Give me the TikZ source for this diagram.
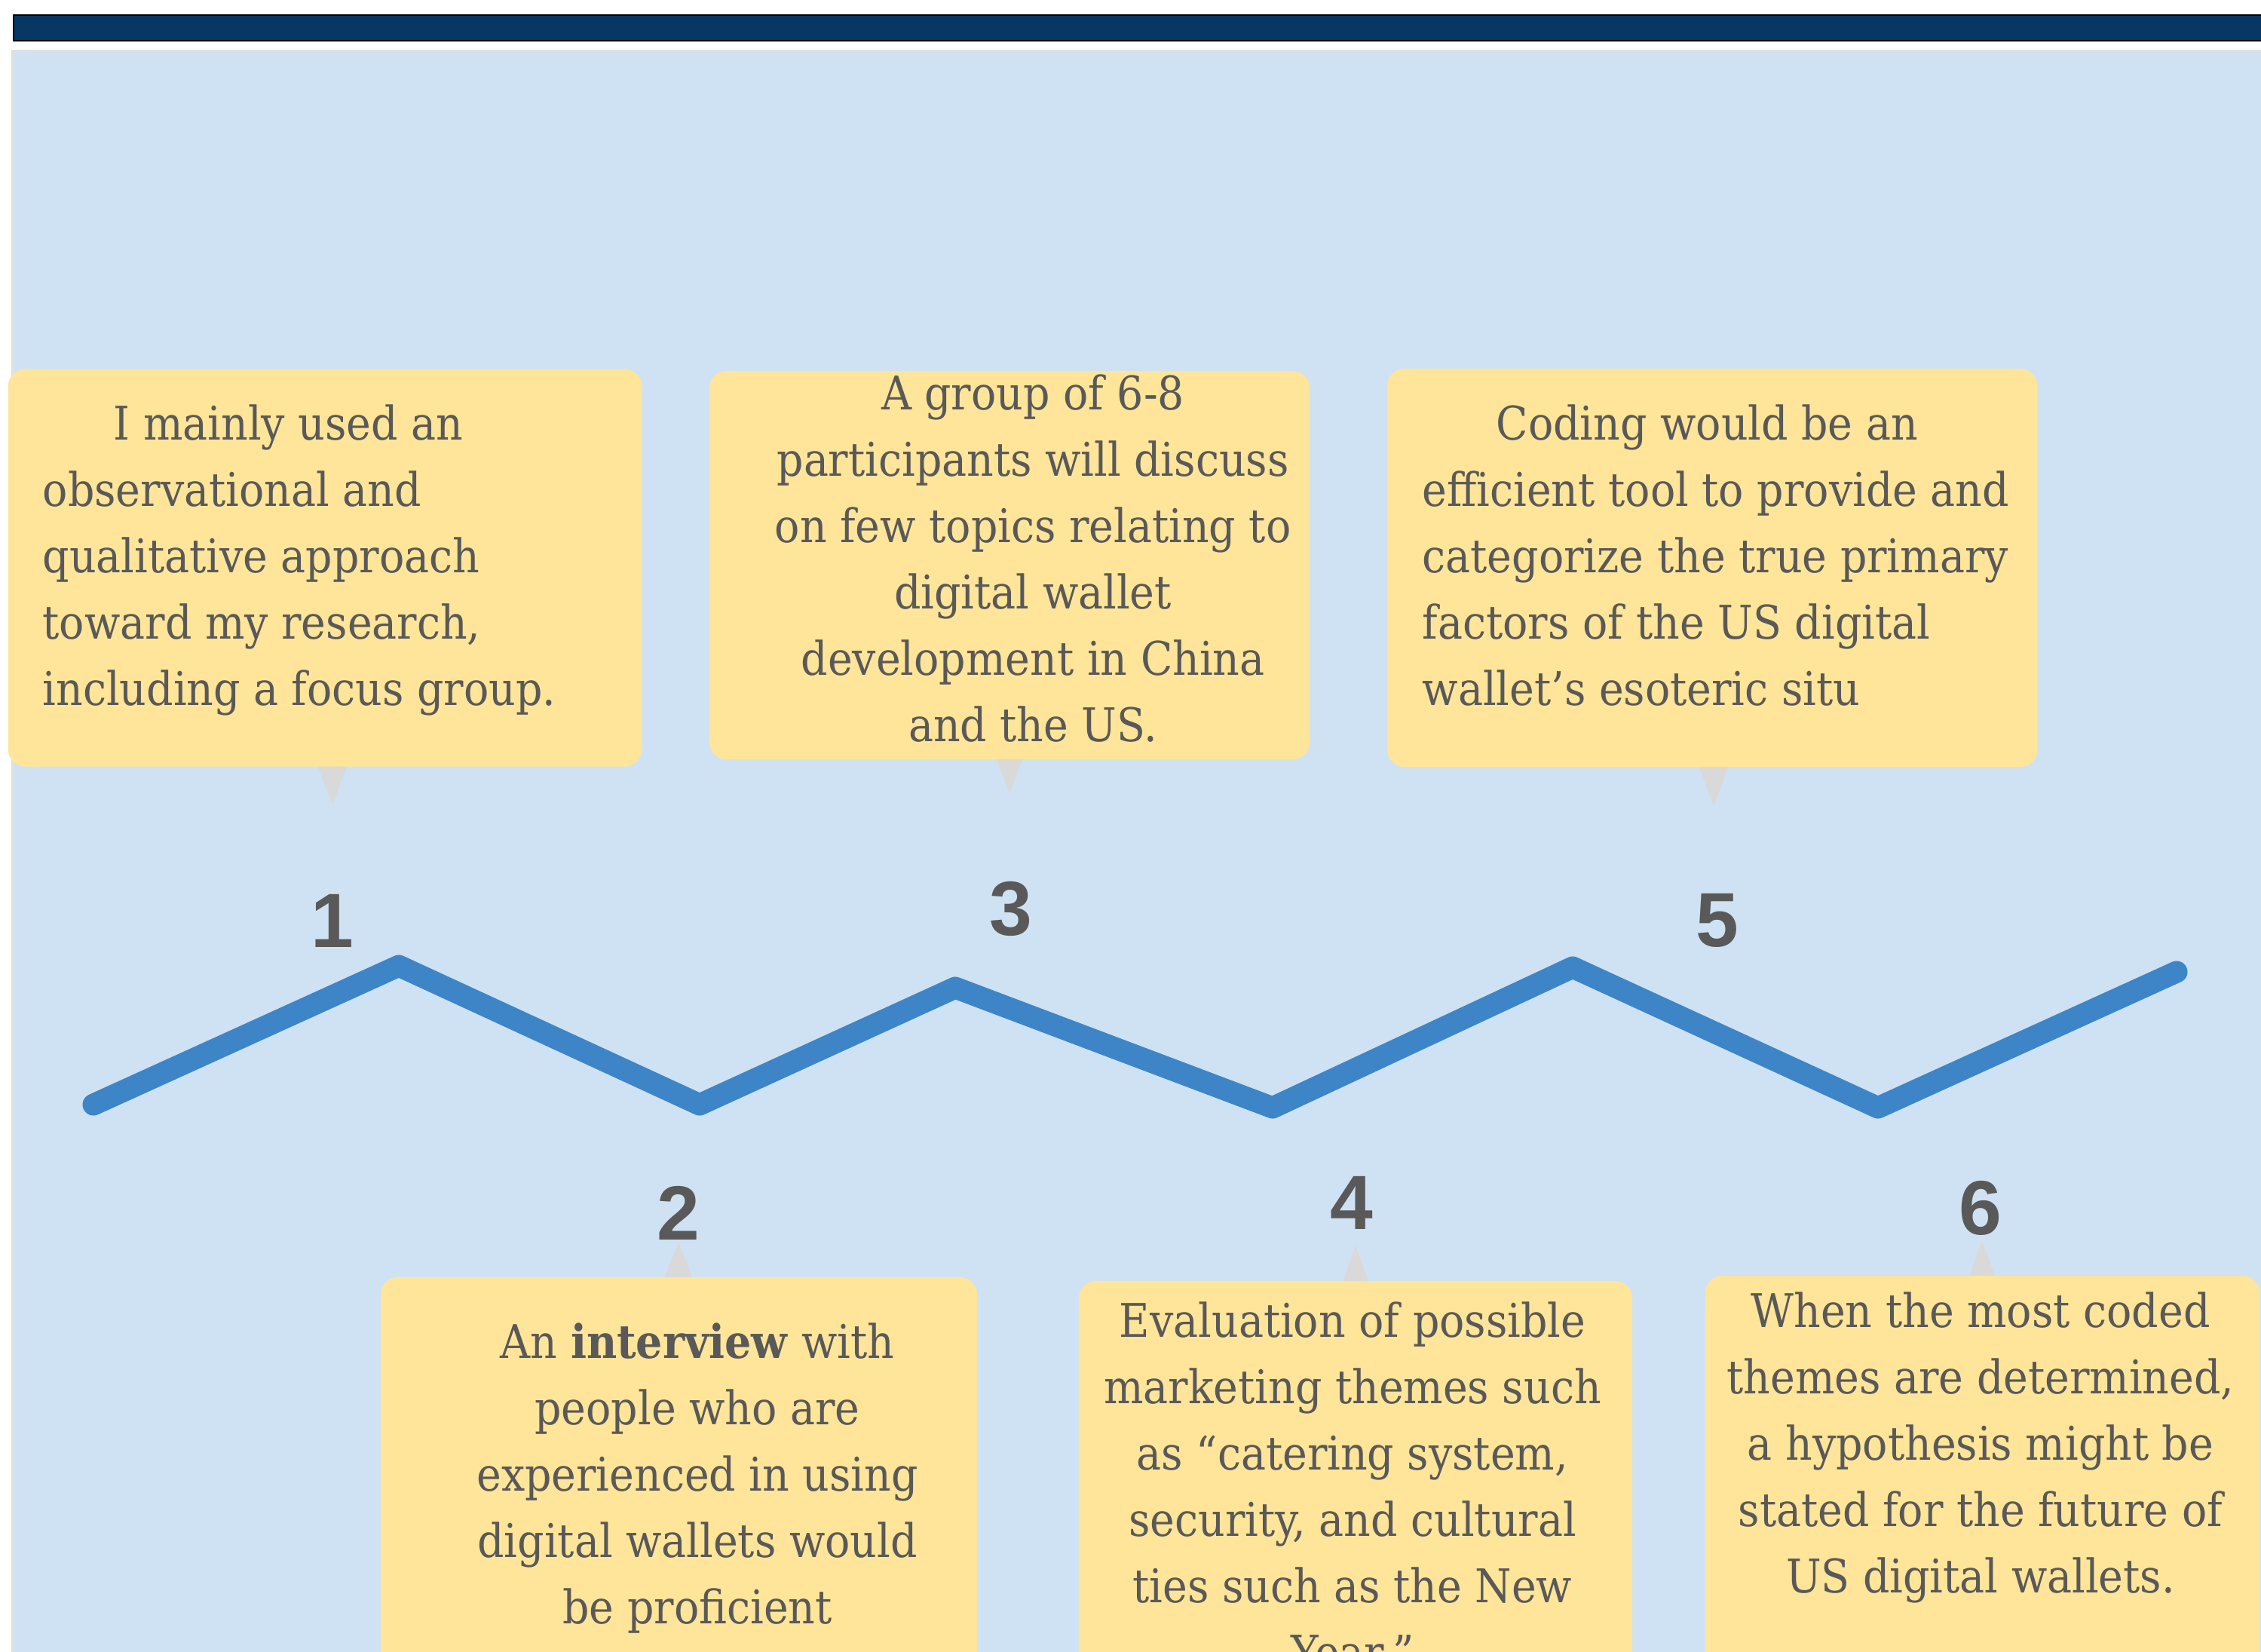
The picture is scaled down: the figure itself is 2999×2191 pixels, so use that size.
\documentclass[tikz,border=0pt]{standalone}
\usepackage{fontspec}
\setmainfont{DejaVu Serif Condensed}
\newfontfamily\numfont{Liberation Sans}

\definecolor{barblue}{HTML}{073763}
\definecolor{panelblue}{HTML}{CFE2F3}
\definecolor{noteyellow}{HTML}{FFE599}
\definecolor{textgray}{HTML}{595959}
\definecolor{lineblue}{HTML}{3D85C6}
\definecolor{tipgray}{HTML}{D9D9D9}

\tikzset{
  note/.style={fill=noteyellow, rounded corners=0.23cm, inner sep=0pt},
  notetext/.style={text=textgray, inner sep=0pt, font=\fontsize{17.5}{25}\selectfont},
  num/.style={text=textgray, inner sep=0pt, font=\numfont\bfseries\fontsize{29}{29}\selectfont},
  pointer/.style={fill=tipgray},
  wave/.style={draw=lineblue, line width=0.29cm, line cap=round, line join=round},
}

\begin{document}
\begin{tikzpicture}[x=0.01cm, y=-0.01cm]
    \useasboundingbox (0,0) rectangle (2999,2191);
    \clip (0,0) rectangle (2999,2191);

    % Header bar and panel
    \fill[white] (0,0) rectangle (2999,2191);
    \draw[fill=barblue, draw=black, line width=0.6pt] (18,20) rectangle (3010,54);
    \fill[black!12] (15,66) rectangle (3010,2200);
    \fill[panelblue] (19,69) rectangle (3010,2200);

    % Pointers (center x, base y, tip y, half width)
    \foreach \cx/\by/\ty/\hw in {441/1010/1067/22, 1339/1000/1052/20, 2273/1010/1069/22,
                                 900/1700/1648/21, 1798/1705/1652/19, 2629/1698/1646/19}
        \fill[pointer] (\cx-\hw,\by) -- (\cx+\hw,\by) -- (\cx,\ty) -- cycle;

    % Notes
    \node[note, minimum width=8.40cm, minimum height=5.27cm] (box1) at (431,753) {};
    \node[note, minimum width=7.96cm, minimum height=5.15cm] (box3) at (1339,749.5) {};
    \node[note, minimum width=8.62cm, minimum height=5.28cm] (box5) at (2271,753) {};
    \node[note, minimum width=7.91cm, minimum height=5.66cm] (box2) at (900.5,1977) {};
    \node[note, minimum width=7.34cm, minimum height=5.61cm] (box4) at (1798,1979.5) {};
    \node[note, minimum width=7.35cm, minimum height=5.68cm] (box6) at (2629.5,1976) {};

    % base anchor sits on the last line
    \node[notetext, align=left, anchor=base west] (txt1) at (56,935)
        {\hspace*{0.94cm}I mainly used an\\observational and\\qualitative approach\\toward my research,\\including a focus group.};
    \node[notetext, align=center, anchor=base] (txt3) at (1370,983)
        {A group of 6-8\\participants will discuss\\on few topics relating to\\digital wallet\\development in China\\and the US.};
    \node[notetext, align=left, anchor=base west] (txt5) at (1886,935)
        {\hspace*{0.98cm}Coding would be an\\efficient tool to provide and\\categorize the true primary\\factors of the US digital\\wallet’s esoteric situ};
    \node[notetext, align=center, anchor=base] (txt2) at (925,2153)
        {An \textbf{interview} with\\people who are\\experienced in using\\digital wallets would\\be proficient};
    \node[notetext, align=center, anchor=base] (txt4) at (1794,2213)
        {Evaluation of possible\\marketing themes such\\as “catering system,\\security, and cultural\\ties such as the New\\Year.”};
    \node[notetext, align=center, anchor=base] (txt6) at (2627,2112)
        {When the most coded\\themes are determined,\\a hypothesis might be\\stated for the future of\\US digital wallets.};

    % Step numbers
    \node[num] (n1) at (441,1221) {1};
    \node[num] (n2) at (900,1609) {2};
    \node[num] (n3) at (1341,1205) {3};
    \node[num] (n4) at (1793,1595) {4};
    \node[num] (n5) at (2278,1221) {5};
    \node[num] (n6) at (2627,1602) {6};

    % Zigzag line
    \coordinate (z0) at (124,1465);
    \coordinate (z1) at (529,1281);
    \coordinate (z2) at (928,1465);
    \coordinate (z3) at (1267,1310);
    \coordinate (z4) at (1688,1469);
    \coordinate (z5) at (2086,1283);
    \coordinate (z6) at (2491,1469);
    \coordinate (z7) at (2887,1289);
    \draw[wave] (z0) -- (z1) -- (z2) -- (z3) -- (z4) -- (z5) -- (z6) -- (z7);
\end{tikzpicture}
\end{document}
